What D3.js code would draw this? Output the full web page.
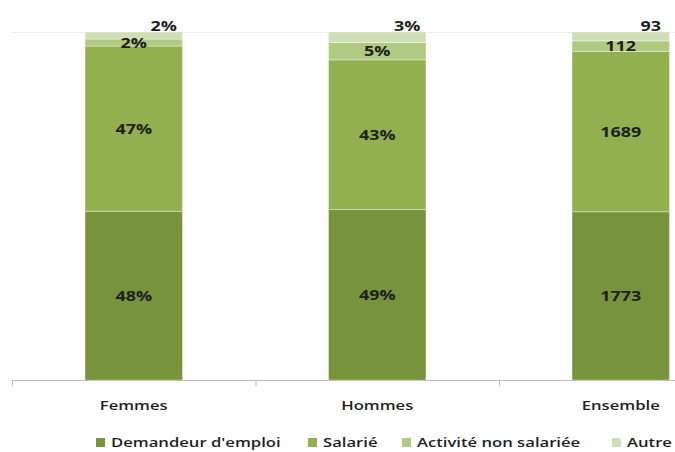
<!DOCTYPE html>
<html>
<head>
<meta charset="utf-8">
<script src="https://cdn.jsdelivr.net/npm/d3@7"></script>
<style>
  html, body { margin: 0; padding: 0; background: #fff; }
  svg { display: block; font-family: "Open Sans", "Liberation Sans", sans-serif; }
</style>
</head>
<body>
<svg id="chart" width="675" height="452"></svg>
<script>
// Situation par sexe : parts empilées (100 %)
const categories = ["Femmes", "Hommes", "Ensemble"];
const series = ["Demandeur d'emploi", "Salarié", "Activité non salariée", "Autre"];
const demandeur = [48, 49, 1773];
const salarie = [47, 43, 1689];
const activite = [2, 5, 112];
const autre = [2, 3, 93];
const labelSuffix = ["%", "%", ""];

const colors = ["#77933c", "#92b050", "#b1ca82", "#d0dfb6"];

const svg = d3.select("#chart");
const W = 675;
const axisY = 380, topY = 32;
const bandStart = 12, bandWidth = 243.5;
const stretch = 1.28; // wide lettering

const x = d3.scaleBand()
  .domain(categories)
  .range([bandStart, bandStart + bandWidth * categories.length])
  .paddingInner(0.6)
  .paddingOuter(0.3);

const y = d3.scaleLinear().domain([0, 1]).range([axisY, topY]);

const values = [demandeur, salarie, activite, autre];
const rows = categories.map((c, i) => {
  const row = { cat: c };
  const total = d3.sum(values, v => v[i]);
  series.forEach((s, k) => row[s] = values[k][i] / total);
  row.raw = values.map(v => v[i]);
  return row;
});

const stacked = d3.stack().keys(series)(rows);

// top gridline (100 %)
svg.append("line")
  .attr("x1", bandStart).attr("x2", W)
  .attr("y1", y(1) + 0.5).attr("y2", y(1) + 0.5)
  .attr("stroke", "#ededed").attr("stroke-width", 1);

// segments
const layers = svg.append("g").selectAll("g")
  .data(stacked).join("g")
  .attr("fill", (d, k) => colors[k]);

layers.selectAll("rect")
  .data(d => d.map(p => ({ p, key: d.key })))
  .join("rect")
  .attr("x", d => x(d.p.data.cat))
  .attr("width", x.bandwidth())
  .attr("y", d => y(d.p[1]))
  .attr("height", d => y(d.p[0]) - y(d.p[1]))
  .attr("stroke", "rgba(255,255,255,0.35)")
  .attr("stroke-width", 1);

// value labels
const labels = svg.append("g")
  .attr("font-size", 14)
  .attr("font-weight", 700)
  .attr("fill", "#1f1f1f")
  .attr("text-anchor", "middle");

stacked.forEach((layer, k) => {
  layer.forEach((p, i) => {
    const cx = x(p.data.cat) + x.bandwidth() / 2;
    const isTop = k === series.length - 1;
    const tx = isTop ? cx + 30 : cx;
    const ty = isTop ? y(p[1]) - 1 : (y(p[0]) + y(p[1])) / 2 + 5;
    labels.append("text")
      .attr("x", tx).attr("y", ty)
      .text(p.data.raw[k] + labelSuffix[i]);
  });
});

// category axis
const axis = svg.append("g");
axis.append("line")
  .attr("x1", bandStart).attr("x2", W)
  .attr("y1", axisY + 0.5).attr("y2", axisY + 0.5)
  .attr("stroke", "#bfbfbf");
d3.range(categories.length).forEach(i => {
  const tx = bandStart + i * bandWidth + 0.5;
  axis.append("line")
    .attr("x1", tx).attr("x2", tx)
    .attr("y1", axisY).attr("y2", axisY + 6)
    .attr("stroke", "#bfbfbf");
});
axis.selectAll("text.cat")
  .data(categories).join("text")
  .attr("class", "cat")
  .attr("x", d => x(d) + x.bandwidth() / 2)
  .attr("y", 410)
  .attr("text-anchor", "middle")
  .attr("font-size", 13)
  .attr("font-weight", 600)
  .attr("fill", "#1f1f1f")
  .text(d => d);

// legend
const legendTextX = [111, 323, 417, 627];
const legend = svg.append("g");
series.forEach((s, k) => {
  legend.append("rect")
    .attr("x", legendTextX[k] - 15).attr("y", 438)
    .attr("width", 9).attr("height", 9)
    .attr("fill", colors[k]);
  legend.append("text")
    .attr("x", legendTextX[k]).attr("y", 447)
    .attr("font-size", 13)
    .attr("font-weight", 600)
    .attr("fill", "#1f1f1f")
    .text(s);
});

// widen all lettering
svg.selectAll("text").each(function () {
  const w = this.getComputedTextLength();
  d3.select(this)
    .attr("textLength", w * stretch)
    .attr("lengthAdjust", "spacingAndGlyphs");
});
</script>
</body>
</html>
